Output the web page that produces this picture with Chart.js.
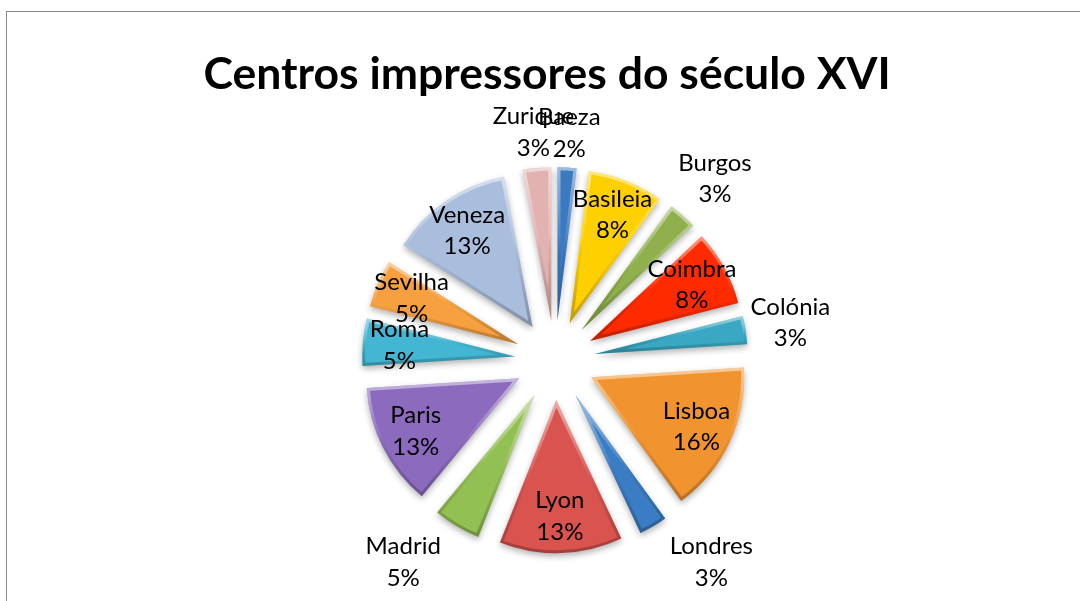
<!DOCTYPE html>
<html>
<head>
<meta charset="utf-8">
<title>Centros impressores do século XVI</title>
<script src="https://cdn.jsdelivr.net/npm/chart.js@4.4.1/dist/chart.umd.min.js"></script>
<style>
  html, body { margin: 0; padding: 0; background: #fff; overflow: hidden; width: 1080px; height: 601px; }
  #frame { position: absolute; left: 6px; top: 11px; width: 1100px; height: 640px; border: 1px solid #8a8a8a; }
  #chart-box { position: absolute; left: 0; top: 0; width: 1080px; height: 620px; }
</style>
</head>
<body>
<div id="frame">
  <div id="chart-box"><canvas id="pie"></canvas></div>
</div>
<script>
// Data (clockwise from the top)
const cities = ['Baeza', 'Basileia', 'Burgos', 'Coimbra', 'Colónia', 'Lisboa', 'Londres',
                'Lyon', 'Madrid', 'Paris', 'Roma', 'Sevilha', 'Veneza', 'Zurique'];
const shares = [2, 8, 3, 8, 3, 16, 3, 13, 5, 13, 5, 5, 13, 3];
const sliceColors = ['#3b79c0', '#ffd000', '#8fb04c', '#ff2a00', '#3aa8c2', '#f1942f', '#3b7dc4',
                     '#d9534f', '#93c052', '#8c6bbf', '#42b6d2', '#f6a03f', '#a9bddc', '#e2b2b1'];

// labels drawn outside their slice
const outsideLabels = ['Zurique', 'Baeza', 'Burgos', 'Colónia', 'Londres', 'Madrid'];

// Pull every slice away from the centre (exploded Excel pie) and give it a soft bevel
const explodePlugin = {
  id: 'explode',
  beforeDatasetDraw(chart, args, opts) {
    const ctx = chart.ctx;
    args.meta.data.forEach(arc => {
      const mid = (arc.startAngle + arc.endAngle) / 2;
      ctx.save();
      ctx.shadowColor = 'rgba(0,0,0,0.3)';
      ctx.shadowBlur = 6;
      ctx.shadowOffsetY = 3;
      ctx.translate(opts.shiftX + Math.cos(mid) * opts.distance, Math.sin(mid) * opts.distance);
      arc.draw(ctx);

      // bevel: light upper edge, darker lower edge
      ctx.shadowColor = 'transparent';
      let minY = arc.y, maxY = arc.y;
      for (let k = 0; k <= 12; k++) {
        const a = arc.startAngle + (arc.endAngle - arc.startAngle) * k / 12;
        const py = arc.y + Math.sin(a) * arc.outerRadius;
        minY = Math.min(minY, py);
        maxY = Math.max(maxY, py);
      }
      ctx.beginPath();
      ctx.moveTo(arc.x, arc.y);
      ctx.arc(arc.x, arc.y, arc.outerRadius, arc.startAngle, arc.endAngle);
      ctx.closePath();
      ctx.clip();
      const g = ctx.createLinearGradient(0, minY, 0, maxY);
      g.addColorStop(0, 'rgba(255,255,255,0.5)');
      g.addColorStop(0.45, 'rgba(255,255,255,0.1)');
      g.addColorStop(0.6, 'rgba(0,0,0,0.05)');
      g.addColorStop(1, 'rgba(0,0,0,0.25)');
      ctx.lineWidth = 6;
      ctx.lineJoin = 'round';
      ctx.strokeStyle = g;
      ctx.stroke();
      ctx.restore();
    });
    return false;
  }
};

// Name + percentage for each slice
const labelPlugin = {
  id: 'sliceLabels',
  afterDatasetsDraw(chart, args, opts) {
    const ctx = chart.ctx;
    const meta = chart.getDatasetMeta(0);
    const values = chart.data.datasets[0].data;
    const total = values.reduce((a, b) => a + b, 0);
    const lh = opts.lineHeight;
    ctx.save();
    ctx.font = opts.font;
    ctx.fillStyle = '#000';
    ctx.textAlign = 'center';
    ctx.textBaseline = 'middle';
    meta.data.forEach((arc, i) => {
      let ang = (arc.startAngle + arc.endAngle) / 2;
      const name = chart.data.labels[i];
      const pct = Math.round(values[i] / total * 100) + '%';
      const w = Math.max(ctx.measureText(name).width, ctx.measureText(pct).width);
      const outside = opts.outside.includes(name);
      const radiusAt = a => outside
        ? opts.distance + arc.outerRadius + (Math.sin(a) > 0 ? opts.gapBelow : opts.gap) +
          Math.abs(Math.cos(a)) * w / 2 + Math.abs(Math.sin(a)) * lh
        : opts.distance + arc.outerRadius * opts.inside;
      let r = radiusAt(ang);
      // slide labels that would fall off the bottom along the ring, away from the vertical
      if (outside) {
        const step = Math.cos(ang) >= 0 ? -0.005 : 0.005;
        let guard = 0;
        while (arc.y + Math.sin(ang) * r + lh > opts.bottomLimit && guard++ < 300) {
          ang += step;
          r = radiusAt(ang);
        }
      }
      const x = opts.shiftX + arc.x + Math.cos(ang) * r;
      const y = arc.y + Math.sin(ang) * r;
      ctx.fillText(name, x, y - lh / 2);
      ctx.fillText(pct, x, y + lh / 2);
    });
    ctx.restore();
  }
};

window.onload = function () {
  const ctx = document.getElementById('pie').getContext('2d');
  new Chart(ctx, {
    type: 'pie',
    data: {
      labels: cities,
      datasets: [{
        data: shares,
        backgroundColor: sliceColors,
        borderWidth: 0,
        radius: 153
      }]
    },
    options: {
      responsive: true,
      maintainAspectRatio: false,
      animation: false,
      events: [],
      layout: { padding: { left: 0, top: 0, right: 0, bottom: 13 } },
      plugins: {
        legend: { display: false },
        tooltip: { enabled: false },
        title: {
          display: true,
          text: 'Centros impressores do século XVI',
          color: '#000',
          font: { family: 'Lato', size: 44.5, weight: 'bold', lineHeight: 1.2 },
          padding: { top: 36, bottom: 0 }
        },
        explode: { distance: 40, shiftX: 8 },
        sliceLabels: {
          font: '24px Lato',
          lineHeight: 31.5,
          distance: 40,
          shiftX: 8,
          inside: 0.76,
          gap: 1,
          gapBelow: 12,
          bottomLimit: 582,
          outside: outsideLabels
        }
      }
    },
    plugins: [explodePlugin, labelPlugin]
  });
};
</script>
</body>
</html>
